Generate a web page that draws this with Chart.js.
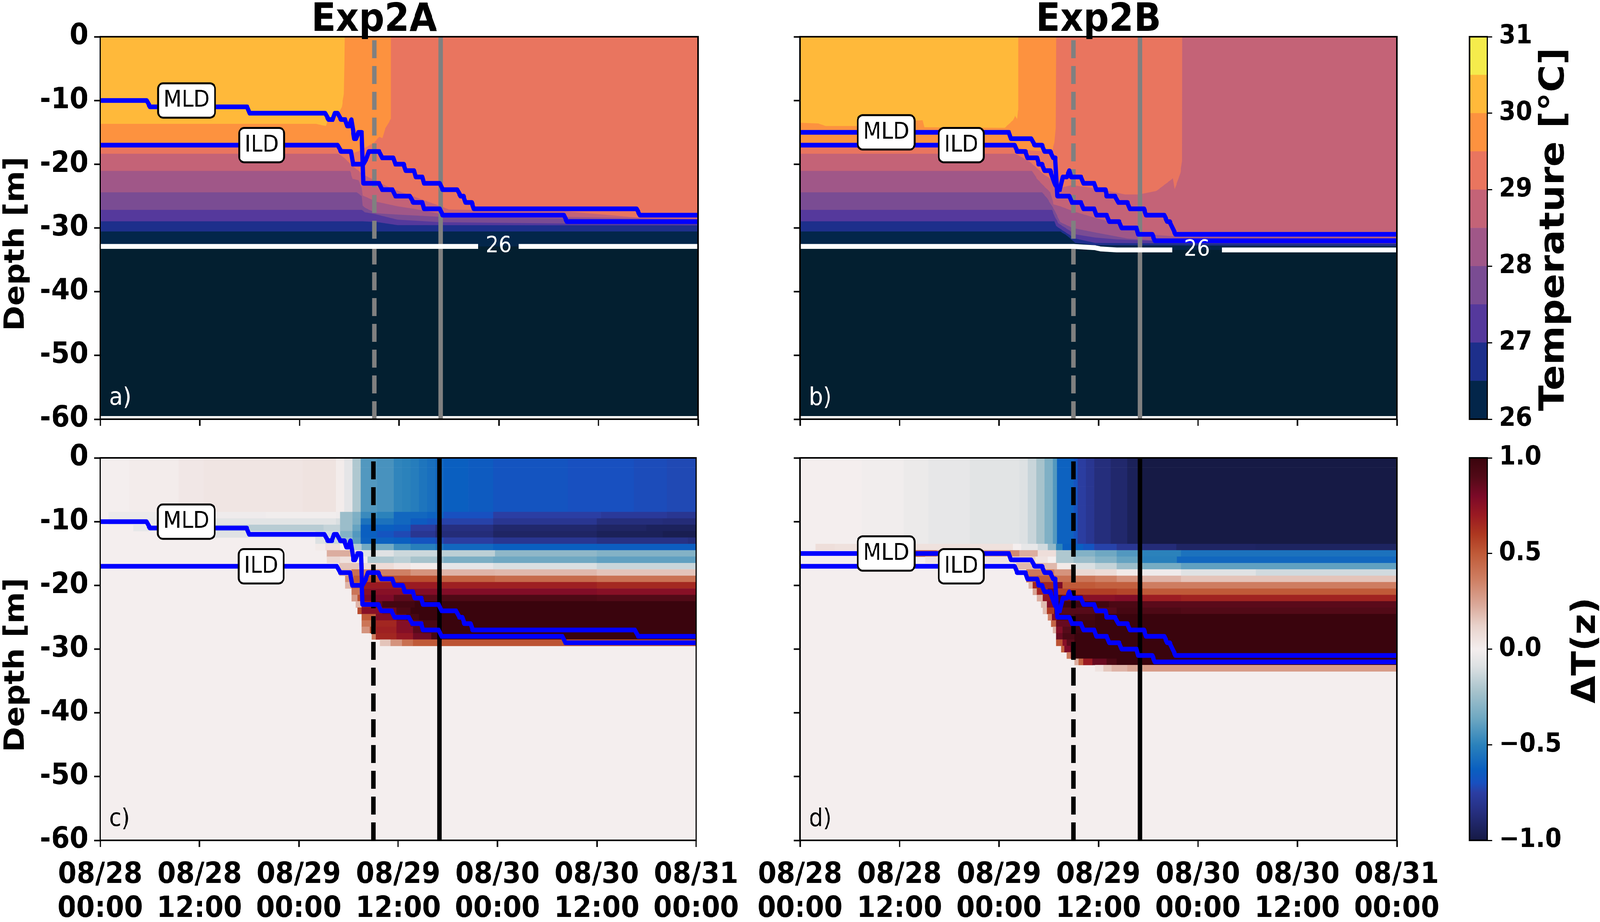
<!DOCTYPE html>
<html>
<head>
<meta charset="utf-8">
<script src="https://cdn.jsdelivr.net/npm/chart.js@4"></script>
<style>
html, body { margin: 0; background: #fff; overflow: hidden; }
#figure { position: absolute; left: 0; top: 0; width: 4472px; height: 2360px; transform-origin: 0 0; }
canvas { position: absolute; }
</style>
</head>
<body>
<div id="figure">
<canvas id="panelA" width="2094" height="1150" style="left:0;top:0"></canvas>
<canvas id="panelB" width="2220" height="1150" style="left:1956px;top:0"></canvas>
<canvas id="panelC" width="2094" height="1282" style="left:0;top:1078px"></canvas>
<canvas id="panelD" width="2220" height="1282" style="left:1956px;top:1078px"></canvas>
<canvas id="barTemp" width="422" height="1150" style="left:4050px;top:0"></canvas>
<canvas id="barDelta" width="422" height="1282" style="left:4050px;top:1078px"></canvas>
</div>
<script>
// the browser window can come out narrower than the figure, squeeze it to fit
document.getElementById("figure").style.transform = `scaleX(${Math.min(1, window.innerWidth / 4472)})`;

// axes
const hourTicks = [0, 12, 24, 36, 48, 60, 72];
const hourLabels = [["08/28", "00:00"], ["08/28", "12:00"], ["08/29", "00:00"], ["08/29", "12:00"], ["08/30", "00:00"], ["08/30", "12:00"], ["08/31", "00:00"]];
const depthTicks = [0, -10, -20, -30, -40, -50, -60];
const tempTicks = [26, 27, 28, 29, 30, 31];
const deltaTicks = [-1, -0.5, 0, 0.5, 1];
const deltaTickLabels = ["\u22121.0", "\u22120.5", "0.0", "0.5", "1.0"];

// storm markers, hours since 08/28 00:00
const dashedHour = 33;
const solidHour = 41;

// mixed layer and isothermal layer depth, [hour, depth]
const mldA = [[0,-10],[5.6,-10],[6,-11],[17.7,-11],[18,-12],[27.1,-12],[27.5,-13],[28,-13],[28.25,-12],[28.6,-12],[29,-13],[29.5,-13],[29.75,-14],[30,-14],[30.25,-13],[30.6,-16],[30.8,-16],[31.1,-15],[31.5,-15],[31.7,-23],[33.6,-23],[33.95,-24],[35.2,-24],[35.55,-25],[37.3,-25],[37.7,-26],[38.8,-26],[39,-27],[40.9,-27],[41.25,-28],[55.85,-28],[56.2,-29],[72,-29]];
const ildA = [[0,-17],[28.6,-17],[29,-18],[30.2,-18],[30.45,-20],[31.7,-20],[32.1,-19],[32.35,-18],[33.6,-18],[33.95,-19],[35.3,-19],[35.55,-20],[36.55,-20],[36.8,-21],[37.8,-21],[38,-22],[38.8,-22],[39,-23],[40.9,-23],[41.25,-24],[43,-24],[43.4,-25],[43.75,-25],[44,-26],[44.75,-26],[45,-27],[64.6,-27],[65,-28],[72,-28]];
const mldB = [[0,-15],[25.2,-15],[25.45,-16],[27.9,-16],[28.3,-17],[29.2,-17],[29.5,-18],[30.2,-18],[30.55,-19],[30.8,-19],[31.05,-25],[32.5,-25],[32.8,-26],[33.9,-26],[34.2,-27],[35.5,-27],[35.75,-28],[37,-28],[37.3,-29],[38.5,-29],[38.8,-30],[40.6,-30],[40.8,-31],[42.5,-31],[42.8,-32],[72,-32]];
const ildB = [[0,-17],[25.9,-17],[26.2,-18],[27.2,-18],[27.45,-19],[28.6,-19],[28.8,-20],[29.2,-20],[29.5,-21],[30.2,-21],[30.7,-23],[31.2,-24],[31.35,-24],[31.7,-22],[32.2,-22],[32.5,-21],[32.7,-22],[33.9,-22],[34.2,-23],[35.5,-23],[35.75,-24],[36.85,-24],[37,-25],[38,-25],[38.4,-26],[39.5,-26],[39.8,-27],[41.5,-27],[41.75,-28],[43.95,-28],[44.3,-29],[44.6,-29],[45.3,-31],[72,-31]];

// temperature contours, warmest first, [hour, depth]
const bandColors = ["#ffb93a", "#fd923f", "#e9755f", "#c46377", "#a05788", "#7a4c93", "#55399c", "#1d2f8b", "#03264a", "#031f30"];
const iso30A = [[0,-13.67],[26,-13.67],[26.6,-13.85],[27.2,-14],[27.4,-13.2],[28.8,-11.8],[29.1,-11],[29.35,-9],[29.42,-4],[29.45,0],[72,0]];
const iso295A = [[0,-17.2],[28.6,-17.2],[30.6,-18.2],[31.4,-17.8],[33,-16.6],[33.6,-15.7],[34,-15.9],[34.3,-14.5],[35,-12.9],[35.02,0],[72,0]];
const iso29A = [[0,-18.36],[28.7,-18.36],[29.4,-19],[30.4,-20.3],[31.1,-21],[31.5,-21.5],[33,-22.5],[35.3,-23.9],[41,-26.6],[42,-27.1],[56,-27.4],[61.5,-28],[65,-28.4],[72,-28.4]];
const iso285A = [[0,-21.05],[30.1,-21.05],[30.4,-22.3],[31.1,-22.5],[31.5,-23.7],[31.6,-24.9],[33.3,-25.9],[35.8,-26.6],[37.8,-27],[41,-27.8],[56,-28.25],[72,-28.6]];
const iso28A = [[0,-24.4],[30.9,-24.4],[31.5,-25],[31.6,-26.5],[32,-26.9],[33.3,-27.7],[35.8,-27.9],[41,-28.25],[56,-28.5],[72,-28.7]];
const iso275A = [[0,-27.17],[31.5,-27.17],[31.9,-27.55],[33,-27.8],[35.8,-28.7],[41,-29.1],[56,-29.3],[72,-29.35]];
const iso27A = [[0,-28.96],[31.6,-28.96],[33.3,-29.07],[35.8,-29.55],[72,-29.6]];
const iso265A = [[0,-30.55],[72,-30.55]];
const iso26A = [[0,-32.9],[72,-32.9]];
const iso30B = [[0,-13.5],[2.2,-13.6],[3.1,-14],[7,-14],[10,-13.4],[14.8,-13.1],[15,-14.2],[24.7,-14.3],[25.7,-13.1],[25.95,-12.4],[26.2,-12.9],[26.3,-11.5],[26.32,0],[72,0]];
const iso295B = [[0,-17.2],[25.7,-17.2],[27.5,-17.8],[30.4,-18.05],[30.7,-16.6],[30.85,-14.3],[30.9,0],[72,0]];
const iso29B = [[0,-18.36],[26,-18.36],[27.7,-19.6],[28.4,-20.4],[29.4,-21.6],[30.4,-22.4],[30.9,-24.1],[31.4,-23.7],[32.7,-23.3],[33,-23.3],[35.6,-23.8],[38,-24.4],[39.2,-24.75],[40.9,-24.75],[43,-24.2],[44.5,-22.7],[45,-22.2],[45.2,-23.9],[45.6,-22.5],[45.9,-21.3],[46.1,-19.5],[46.12,0],[72,0]];
const iso285B = [[0,-21.05],[28,-21.05],[28.6,-22.3],[29.4,-23.4],[30.2,-24.4],[30.6,-26.3],[31.4,-26.6],[33,-27.4],[35.6,-28.4],[38.2,-29.3],[40.9,-30.5],[43,-31.1],[45.1,-31.3],[72,-31.5]];
const iso28B = [[0,-24.4],[29.2,-24.4],[29.8,-25.3],[30.7,-27.2],[31.4,-29.1],[32.9,-30],[35.6,-30.7],[39.5,-31.65],[42.4,-31.9],[72,-32]];
const iso275B = [[0,-27.17],[30.4,-27.17],[30.8,-28.4],[31.2,-29.3],[33.2,-31],[35.6,-31.5],[38.2,-31.8],[42.4,-32],[72,-32.2]];
const iso27B = [[0,-28.96],[30.7,-28.96],[30.9,-29.7],[31.7,-30.4],[33.2,-31.65],[35.6,-32.35],[42.4,-32.4],[72,-32.5]];
const iso265B = [[0,-30.55],[31.4,-30.55],[32.2,-31.2],[33.2,-32.35],[35.6,-32.7],[72,-32.85]];
const iso26B = [[0,-32.9],[33,-32.9],[35.6,-33.1],[36.3,-33.3],[38.2,-33.45],[72,-33.45]];
const bottomLine = [[0,-60],[72,-60]];
const deepContour = [[0,-59.9],[72,-59.9]];

// 26 degree contour, broken where its label sits
const white26A = [[[0,-32.9],[45.5,-32.9]], [[50.4,-32.9],[72,-32.9]]];
const white26B = [[[0,-32.9],[33,-32.9],[35.6,-33.1],[36.3,-33.3],[38.2,-33.45],[44.9,-33.45]], [[50.9,-33.45],[72,-33.45]]];

// delta T, each row is a list of [start hour, value] runs, 0 before the first run
const surfaceA = [[3.5,.01],[9.5,.03],[12.5,.04],[24.5,.05],[28.5,.01],[29.5,-.06],[30.5,-.2],[31.5,-.42],[33.5,-.44],[35.5,-.49],[36.5,-.5],[37.5,-.52],[38.5,-.55],[39.5,-.57],[40.5,-.6],[41.5,-.63],[44.5,-.65],[47.5,-.68],[56.5,-.7],[64.5,-.71],[68.5,-.72]];
const surfaceRowsA = 9;
const deepRowsA = {
  9: [[1,-.03],[9.5,-.02],[20,-.01],[28.5,-.02],[29,-.25],[30.5,-.32],[31.5,-.47],[33.5,-.5],[35.5,-.6],[39.5,-.62],[41.5,-.7],[47.5,-.75],[60.5,-.78],[68.5,-.8]],
  10: [[1,-.04],[10,-.07],[28.5,-.1],[29,-.25],[30.5,-.33],[31.5,-.56],[35.5,-.6],[37.5,-.65],[39.5,-.68],[41,-.74],[47.5,-.8],[60,-.86],[68,-.87]],
  11: [[4,-.05],[14,-.15],[18,-.18],[27,-.15],[29,-.25],[30.5,-.38],[31.5,-.63],[35.5,-.65],[37.5,-.76],[40.5,-.85],[47.5,-.9],[60,-.92],[66,-.94]],
  12: [[12,-.08],[26,-.12],[29,-.31],[30.5,-.42],[31.5,-.63],[33.5,-.68],[35.5,-.72],[37.5,-.8],[40.5,-.87],[47.5,-.92],[60,-.95],[68,-.97]],
  13: [[26,-.09],[27.2,-.14],[29,-.25],[30.5,-.4],[31.5,-.62],[35.5,-.63],[37.5,-.68],[40.5,-.72],[41.5,-.76],[47.5,-.8],[60,-.84],[71,-.86]],
  14: [[26,.02],[27.2,.07],[29,0],[30.5,-.19],[31.6,-.35],[35.5,-.46],[37.5,-.51],[40.5,-.55],[41.5,-.6],[47.5,-.63],[60,-.64]],
  15: [[27.4,.22],[30.5,.07],[31.6,-.08],[35.5,-.13],[41.3,-.17],[47.7,-.28],[60,-.31]],
  16: [[27.4,.1],[29,.06],[30.5,.02],[32.3,-.2],[35.5,-.17],[37.5,-.22],[41,-.27],[41.5,-.33],[47.5,-.36],[60,-.39]],
  17: [[28.9,.16],[31.9,.08],[35.5,.04],[37.5,.01],[41.3,-.06],[47.5,-.1],[60,-.14]],
  18: [[28.9,.2],[30.4,.42],[31.9,.36],[37.5,.3],[41.3,.2],[47.7,.19],[60,.16]],
  19: [[29.6,.32],[30.6,.5],[31.9,.54],[41.3,.47],[47.7,.44],[60,.41]],
  20: [[29.6,.2],[30.4,.47],[31.9,.7],[41.3,.68],[60,.65]],
  21: [[30.4,.4],[31.9,.76],[37.5,.78],[60,.76]],
  22: [[30.4,.27],[31.1,.54],[31.9,.8],[35.5,.88],[41,.92],[60,.9]],
  23: [[30.9,.2],[31.6,.68],[33.3,.87],[34.1,.96],[38,1]],
  24: [[31.1,.54],[31.6,.76],[34.1,.84],[35.8,.93],[37.5,1]],
  25: [[31.6,.5],[33.3,.78],[35.8,.87],[37,.95],[38.5,1]],
  26: [[31.6,.4],[33.1,.66],[35.8,.77],[37.5,.85],[38,.87],[39,.93],[40.8,1]],
  27: [[31.6,.3],[32.6,.54],[33.3,.68],[35.8,.77],[37.8,.88],[39,.92],[40.8,.98],[41.3,1]],
  28: [[32.8,.38],[33.3,.66],[35.8,.72],[37.8,.83],[40,.95],[41.3,1]],
  29: [[33.8,.16],[35.1,.3],[36.5,.42],[37.8,.5],[41.3,.52]]
};
const surfaceB = [[7.5,-.01],[12.5,-.03],[15.5,-.05],[20.5,-.07],[26.5,-.09],[27.5,-.14],[28.5,-.22],[29.5,-.32],[30.5,-.42],[31,-.62],[33,-.68],[33.5,-.76],[34.5,-.8],[35.5,-.86],[37.5,-.9],[39.5,-.95],[41,-1]];
const surfaceRowsB = 14;
const deepRowsB = {
  14: [[1.9,.07],[4.2,.06],[25.7,0],[26.7,-.05],[28.7,-.12],[29.9,-.27],[30.9,-.5],[31.7,-.63],[34.2,-.68],[35.5,-.74],[38.2,-.8],[40.8,-.83],[41.4,-.87],[45.4,-.92],[55,-.93]],
  15: [[13.8,.45],[16.5,.3],[25.3,.33],[26.5,.22],[28.7,.07],[30.9,-.2],[33,-.31],[35.6,-.36],[38.2,-.42],[40.8,-.48],[41.4,-.5],[46,-.56]],
  16: [[15.1,.05],[25.7,.13],[28.4,.05],[29.9,0],[30.9,-.2],[33,-.25],[35.6,-.31],[38.2,-.38],[40.8,-.48],[41.4,-.51],[45.5,-.6]],
  17: [[26.1,.19],[30.7,.19],[31,.02],[33.3,-.1],[35.6,-.15],[38.2,-.25],[40.8,-.3],[41.4,-.34],[46,-.39]],
  18: [[27.3,.39],[30.7,.3],[33.1,.1],[35.6,.08],[38.2,.02],[40.8,0],[41.4,-.02],[46,-.08],[55,-.12]],
  19: [[27.3,.46],[28.6,.5],[30.9,.42],[33,.4],[35.6,.36],[38.2,.3],[40.8,.24],[41.4,.2],[46,.16]],
  20: [[27.6,.2],[28.1,.66],[30.9,.8],[31.7,.5],[35.6,.48],[40.8,.43],[41.4,.37]],
  21: [[28.1,.25],[28.6,.66],[29.9,.83],[31,.58],[38.2,.56],[40.8,.54],[41.4,.5]],
  22: [[28.6,.22],[29.3,.73],[30.4,.9],[31.7,.83],[34.1,.76],[38,.78],[40.8,.75],[41.4,.69],[46,.67]],
  23: [[29.1,.18],[29.8,.78],[30.7,.97],[37.3,.93],[40.8,.92],[41.4,.88]],
  24: [[29.3,.18],[29.8,.6],[30.7,.89],[38.2,.95],[41.4,.92],[46,.9]],
  25: [[29.9,.35],[30.4,.78],[31,.92],[33.1,.96],[35.6,1]],
  26: [[30.3,.46],[30.9,.85],[33.1,.98],[35.6,1]],
  27: [[30.5,.2],[30.9,.78],[31.7,.89],[33.1,.98],[35.6,1]],
  28: [[30.9,.84],[31.7,.93],[33.1,1]],
  29: [[30.9,.52],[31.7,.76],[32.2,.88],[33.1,1]],
  30: [[31.5,.47],[31.9,.8],[32.7,1]],
  31: [[32.2,.38],[32.7,.78],[33.1,1]],
  32: [[33.1,.22],[33.6,.47],[34.2,.7],[35.3,.85],[37,.93],[38.2,1]],
  33: [[35.6,.05],[36.6,.15],[37.6,.2],[39.5,.24],[41.4,.27]]
};

// colour bars
const tempBandEdges = [26, 26.5, 27, 27.5, 28, 28.5, 29, 29.5, 30, 30.5, 31];
const tempBandColors = ["#03264a", "#1d2f8b", "#55399c", "#7a4c93", "#a05788", "#c46377", "#e9755f", "#fd923f", "#ffb93a", "#f5ec4c"];
const balanceValues = [-1, -.85, -.75, -.7, -.63, -.5, -.36, -.22, -.09, 0, .12, .23, .36, .5, .6, .7, .8, .9, 1];
const balanceColors = ["#161a45", "#262f80", "#2b3ea3", "#1850c0", "#0a5fc0", "#2b82bb", "#6fa8c2", "#a7c3cc", "#dde1e3", "#f4eeee", "#e9d3cc", "#dba99a", "#cf8064", "#c05a38", "#ae3820", "#9a1a22", "#7c0a28", "#520a17", "#3a040d"];

Chart.defaults.font.family = "'DejaVu Sans'";
Chart.defaults.color = "#000";

const rgbOf = (hex) => [1, 3, 5].map((i) => parseInt(hex.slice(i, i + 2), 16));

// piecewise colour ramp for delta T
const balance = (v) => {
    let i = 0;
    while (i < balanceValues.length - 2 && v > balanceValues[i + 1]) i++;
    const t = Math.min(1, Math.max(0, (v - balanceValues[i]) / (balanceValues[i + 1] - balanceValues[i])));
    const a = rgbOf(balanceColors[i]);
    const b = rgbOf(balanceColors[i + 1]);
    return `rgb(${a.map((c, j) => Math.round(c + (b[j] - c) * t)).join(",")})`;
};

const pts = (list) => list.map(([x, y]) => ({ x, y }));

const lineSet = (list, color, width, extra) => Object.assign({
    data: pts(list), borderColor: color, borderWidth: width,
    pointRadius: 0, tension: 0, fill: false, borderJoinStyle: "round"
}, extra);

const fillSet = (list, color) => ({
    data: pts(list), borderWidth: 0, borderColor: color, backgroundColor: color,
    pointRadius: 0, tension: 0, fill: "end"
});

const stormLines = (color) => [
    // drawn bottom up so the dashes land like the original
    lineSet([[dashedHour, -60], [dashedHour, 0]], color, 12.5, { borderDash: [46, 20], borderCapStyle: "butt" }),
    lineSet([[solidHour, -60], [solidHour, 0]], color, 12.5)
];

// turn the run lists into floating horizontal bars
const cellsFrom = (surface, surfaceRows, deepRows) => {
    const cells = [];
    const addRow = (row, runs) => {
        runs.forEach(([start, v], i) => {
            const end = i + 1 < runs.length ? runs[i + 1][0] : 72;
            cells.push({ x: [start, end], y: -row, v });
        });
    };
    for (let r = 0; r < surfaceRows; r++) addRow(r, surface);
    Object.keys(deepRows).forEach((r) => addRow(Number(r), deepRows[r]));
    return cells;
};

const heatSet = (cells) => ({
    type: "bar", indexAxis: "y", data: cells, grouped: false,
    barPercentage: 1, categoryPercentage: 1, borderWidth: 0,
    backgroundColor: (c) => (c.raw ? balance(c.raw.v) : "#f4eeee")
});

// spines, titles, MLD/ILD boxes, panel letters, contour label, colour bar titles
const notesPlugin = {
    id: "notes",
    afterDatasetsDraw(chart, args, o) {
        const { ctx, chartArea: a, scales } = chart;
        ctx.save();
        ctx.strokeStyle = "#000";
        ctx.lineWidth = 4;
        ctx.strokeRect(a.left, a.top, a.right - a.left, a.bottom - a.top);
        if (o.heading) {
            ctx.font = "bold 100px 'DejaVu Sans'";
            ctx.fillStyle = "#000";
            ctx.textAlign = "center";
            ctx.textBaseline = "alphabetic";
            ctx.fillText(o.heading[0], scales.x.getPixelForValue(o.heading[1]), 79);
        }
        ctx.textBaseline = "middle";
        ctx.textAlign = "center";
        (o.boxes || []).forEach(([text, hour, depth]) => {
            const x = scales.x.getPixelForValue(hour);
            const y = scales.y.getPixelForValue(depth);
            ctx.font = "59px 'DejaVu Sans'";
            const w = ctx.measureText(text).width + 30;
            ctx.beginPath();
            ctx.roundRect(x - w / 2, y - 44, w, 88, 14);
            ctx.fillStyle = "#fff";
            ctx.fill();
            ctx.lineWidth = 5;
            ctx.stroke();
            ctx.fillStyle = "#000";
            ctx.fillText(text, x, y + 1);
        });
        if (o.contour) {
            ctx.font = "57px 'DejaVu Sans'";
            ctx.fillStyle = "#fff";
            ctx.fillText(o.contour[0], scales.x.getPixelForValue(o.contour[1]), scales.y.getPixelForValue(o.contour[2]));
        }
        if (o.letter) {
            ctx.font = "62px 'DejaVu Sans'";
            ctx.fillStyle = o.letterColor;
            ctx.textAlign = "left";
            ctx.fillText(o.letter, a.left + 25, a.bottom - 53);
        }
        if (o.sideTitle) {
            ctx.font = o.sideTitle.font;
            ctx.fillStyle = "#000";
            ctx.textAlign = "center";
            ctx.textBaseline = "alphabetic";
            ctx.translate(o.sideTitle.x, o.sideTitle.y);
            ctx.rotate(-Math.PI / 2);
            ctx.fillText(o.sideTitle.text, 0, 0);
        }
        ctx.restore();
    }
};

const tickFont = { size: 75, weight: "bold" };
const tickGrid = { display: true, drawOnChartArea: false, drawTicks: true, tickLength: 17, tickWidth: 4, tickColor: "#000", offset: false };

const panel = (id, o) => new Chart(document.getElementById(id), {
    type: "line",
    data: { datasets: o.datasets },
    options: {
        responsive: false, animation: false, devicePixelRatio: 1, normalized: true,
        layout: { padding: { top: 94, right: o.padRight } },
        plugins: {
            legend: { display: false }, tooltip: { enabled: false },
            notes: o.notes
        },
        scales: {
            x: {
                type: "linear", min: 0, max: 72, offset: false, grid: tickGrid, border: { display: false },
                afterBuildTicks: (s) => { s.ticks = hourTicks.map((value) => ({ value })); },
                afterFit: (s) => { s.height = o.axisHeight; },
                ticks: {
                    display: o.showHours, autoSkip: false, maxRotation: 0, padding: 29, color: "#000",
                    font: { size: 75, weight: "bold", lineHeight: 1.16 },
                    callback: (v) => hourLabels[hourTicks.indexOf(v)]
                }
            },
            y: {
                type: "linear", min: -60, max: 0, offset: false, grid: tickGrid, border: { display: false },
                afterBuildTicks: (s) => { s.ticks = depthTicks.map((value) => ({ value })); },
                afterFit: (s) => { s.width = 280; },
                ticks: { display: o.showDepths, autoSkip: false, padding: 16, color: "#000", font: tickFont, callback: (v) => String(v) },
                // the trailing spaces push the label down the axis, as in the original
                title: { display: o.showDepths, text: "Depth [m]   ", color: "#000", padding: 0, font: { size: 78, weight: "bold", lineHeight: 1.2 } }
            }
        }
    },
    plugins: [notesPlugin]
});

const contourSets = (mld, ild, white, isos) => [
    lineSet(mld, "#0000ff", 12),
    lineSet(ild, "#0000ff", 12),
    lineSet(white[0], "#fff", 12.5),
    lineSet(white[1], "#fff", 12.5),
    ...stormLines("#808080"),
    lineSet(deepContour, "#fff", 12.5),
    ...isos.map((iso, i) => fillSet(iso, bandColors[i]))
];

const heatSets = (mld, ild, cells) => [
    lineSet(mld, "#0000ff", 12),
    lineSet(ild, "#0000ff", 12),
    ...stormLines("#000"),
    heatSet(cells),
    fillSet(bottomLine, "#f4eeee")
];

panel("panelA", {
    padRight: 143, axisHeight: 77, showHours: false, showDepths: true,
    datasets: contourSets(mldA, ildA, white26A, [iso30A, iso295A, iso29A, iso285A, iso28A, iso275A, iso27A, iso265A, iso26A, bottomLine]),
    notes: { heading: ["Exp2A", 33], letter: "a)", letterColor: "#fff", boxes: [["MLD", 10.4, -10], ["ILD", 19.45, -17]], contour: ["26", 48, -32.9] }
});
panel("panelB", {
    padRight: 272, axisHeight: 77, showHours: false, showDepths: false,
    datasets: contourSets(mldB, ildB, white26B, [iso30B, iso295B, iso29B, iso285B, iso28B, iso275B, iso27B, iso265B, iso26B, bottomLine]),
    notes: { heading: ["Exp2B", 36], letter: "b)", letterColor: "#fff", boxes: [["MLD", 10.4, -15], ["ILD", 19.45, -17]], contour: ["26", 47.9, -33.45] }
});
panel("panelC", {
    padRight: 143, axisHeight: 209, showHours: true, showDepths: true,
    datasets: heatSets(mldA, ildA, cellsFrom(surfaceA, surfaceRowsA, deepRowsA)),
    notes: { letter: "c)", letterColor: "#000", boxes: [["MLD", 10.4, -10], ["ILD", 19.45, -17]] }
});
panel("panelD", {
    padRight: 272, axisHeight: 209, showHours: true, showDepths: false,
    datasets: heatSets(mldB, ildB, cellsFrom(surfaceB, surfaceRowsB, deepRowsB)),
    notes: { letter: "d)", letterColor: "#000", boxes: [["MLD", 10.4, -15], ["ILD", 19.45, -17]] }
});

const colourBar = (id, o) => new Chart(document.getElementById(id), {
    type: "bar",
    data: { labels: ["bar"], datasets: o.datasets },
    options: {
        responsive: false, animation: false, devicePixelRatio: 1,
        layout: { padding: { left: 57, top: o.top, bottom: o.bottom } },
        plugins: { legend: { display: false }, tooltip: { enabled: false }, notes: { sideTitle: o.sideTitle } },
        scales: {
            x: { type: "category", display: false, offset: true },
            y: {
                type: "linear", position: "right", min: o.min, max: o.max, offset: false, border: { display: false },
                grid: { display: true, drawOnChartArea: false, drawTicks: true, tickLength: 14, tickWidth: 3, tickColor: "#000", offset: false },
                afterBuildTicks: (s) => { s.ticks = o.ticks.map((value) => ({ value })); },
                afterFit: (s) => { s.width = 315; },
                ticks: { autoSkip: false, padding: 19, color: "#000", font: { size: 67, weight: "bold" }, callback: o.label }
            }
        }
    },
    plugins: [notesPlugin]
});

colourBar("barTemp", {
    min: 26, max: 31, ticks: tempTicks, top: 94, bottom: 77, label: (v) => String(v),
    datasets: tempBandColors.map((color, i) => ({
        data: [[tempBandEdges[i], tempBandEdges[i + 1]]], backgroundColor: color,
        grouped: false, barPercentage: 1, categoryPercentage: 1, borderWidth: 0
    })),
    sideTitle: { text: "Temperature [\u00b0C]", font: "bold 96px 'DejaVu Sans'", x: 321, y: 587 }
});
colourBar("barDelta", {
    min: -1, max: 1, ticks: deltaTicks, top: 94, bottom: 209, label: (v) => deltaTickLabels[deltaTicks.indexOf(v)],
    datasets: [{
        data: [[-1, 1]], grouped: false, barPercentage: 1, categoryPercentage: 1, borderWidth: 0,
        backgroundColor: (c) => {
            const { chart } = c;
            if (!chart.chartArea) return "#fff";
            const y = chart.scales.y;
            const g = chart.ctx.createLinearGradient(0, y.getPixelForValue(-1), 0, y.getPixelForValue(1));
            balanceValues.forEach((v, i) => g.addColorStop((v + 1) / 2, balanceColors[i]));
            return g;
        }
    }],
    sideTitle: { text: "\u0394T(z)", font: "bold 92px 'DejaVu Sans'", x: 408, y: 587 }
});
</script>
</body>
</html>
